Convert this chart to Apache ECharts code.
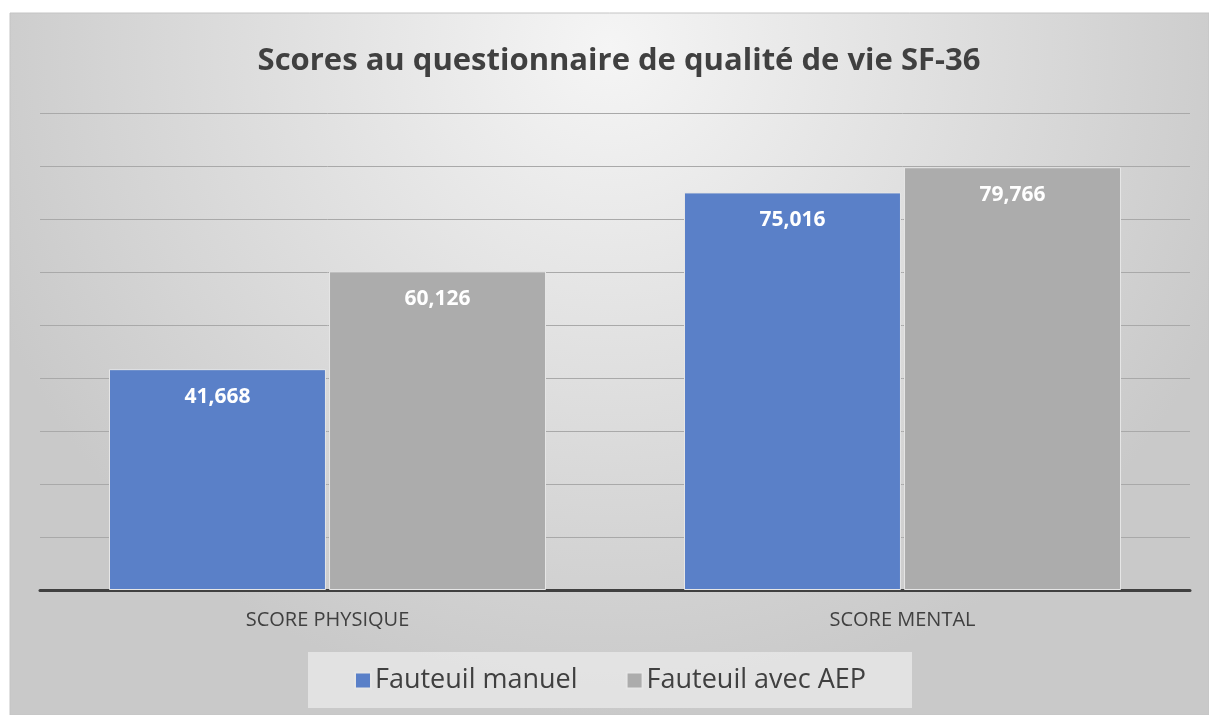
<!DOCTYPE html>
<html>
<head>
<meta charset="utf-8">
<script src="https://cdn.jsdelivr.net/npm/echarts@6/dist/echarts.min.js"></script>
<style>
  html, body { margin: 0; padding: 0; background: #fff; }
  #chart { width: 1209px; height: 715px; }
</style>
</head>
<body>
<div id="chart"></div>
<script>
// données
var categories = ["SCORE PHYSIQUE", "SCORE MENTAL"];
var manuel = [41.668, 75.016];
var avecAEP = [60.126, 79.766];
var seriesNames = ["Fauteuil manuel", "Fauteuil avec AEP"];

var FONT = "'Open Sans', 'Noto Sans', sans-serif";

function fmt(v) {
    return v.toFixed(3).replace(".", ",");
}

var chart = echarts.init(document.getElementById("chart"));

var labelStyle = {
    show: true,
    position: "insideTop",
    distance: 17,
    color: "#ffffff",
    fontFamily: FONT,
    fontWeight: "bold",
    fontSize: 21,
    formatter: function (p) { return fmt(p.value); }
};

chart.setOption({
    animation: false,
    graphic: [{
        type: "rect",
        z: -10,
        silent: true,
        shape: { x: 10, y: 13, width: 1199, height: 702 },
        style: {
            fill: {
                type: "radial", x: 0.5, y: 0.05, r: 0.95,
                colorStops: [
                    { offset: 0, color: "#f5f5f5" },
                    { offset: 1, color: "#c9c9c9" }
                ]
            },
            stroke: "#c4c4c4",
            lineWidth: 1
        }
    }],
    title: {
        text: "Scores au questionnaire de qualité de vie SF-36",
        left: 614,
        top: 41,
        textAlign: "center",
        textStyle: {
            fontFamily: FONT,
            fontWeight: "bold",
            fontSize: 31,
            color: "#404040"
        }
    },
    legend: {
        data: seriesNames,
        left: 308,
        top: 652,
        padding: [15, 46, 14, 46],
        itemGap: 48,
        itemWidth: 16,
        itemHeight: 16,
        icon: "rect",
        backgroundColor: "rgba(230,230,230,0.85)",
        textStyle: {
            fontFamily: FONT,
            fontSize: 27,
            color: "#404040",
            padding: [0, 0, 0, -1]
        }
    },
    grid: { left: 40, right: 19, top: 113, bottom: 125 },
    xAxis: {
        type: "category",
        data: categories,
        axisLine: { lineStyle: { color: "#404040", width: 3 } },
        axisTick: { show: false },
        axisLabel: {
            fontFamily: FONT,
            fontSize: 20,
            color: "#404040",
            margin: 20
        }
    },
    yAxis: {
        type: "value",
        min: 0,
        max: 90,
        interval: 10,
        axisLabel: { show: false },
        axisLine: { show: false },
        axisTick: { show: false },
        splitLine: { lineStyle: { color: "#a9a9a9", width: 1 } }
    },
    series: [{
        name: seriesNames[0],
        type: "bar",
        data: manuel,
        barGap: "1.4%",
        barCategoryGap: "24%",
        itemStyle: { color: "#5a80c8", borderColor: "#e6e6e6", borderWidth: 1 },
        label: labelStyle
    }, {
        name: seriesNames[1],
        type: "bar",
        data: avecAEP,
        itemStyle: { color: "#acacac", borderColor: "#e6e6e6", borderWidth: 1 },
        label: labelStyle
    }]
});
</script>
</body>
</html>
